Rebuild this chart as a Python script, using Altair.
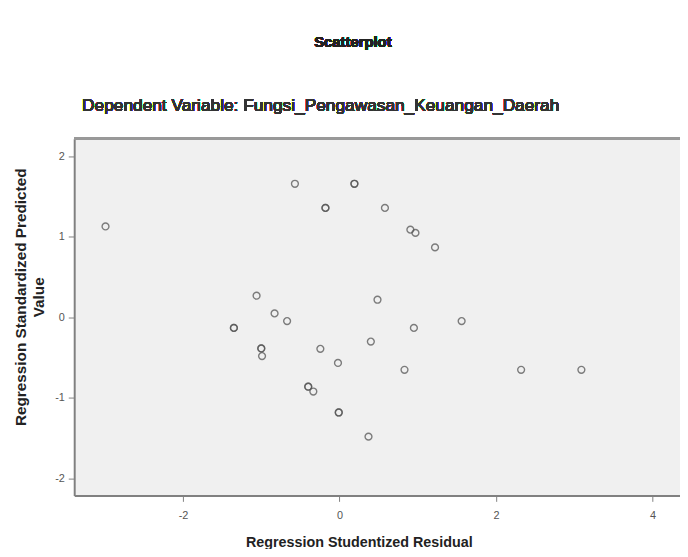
import altair as alt
import pandas as pd

# Regression Studentized Residual (x) and Regression Standardized Predicted Value (y)
resid = [-2.99, -0.57, 0.19, 0.19, -0.18, -0.18, 0.58, 0.905, 0.97, 1.22,
         -1.06, 0.485, -0.83, -0.67, -1.35, -1.35, 1.56, 0.95, -1.00, -1.00,
         -0.99, -0.245, 0.40, -0.02, 0.83, 2.32, 3.09, -0.40, -0.40, -0.335,
         -0.01, -0.01, 0.37]
pred = [1.13, 1.66, 1.66, 1.66, 1.36, 1.36, 1.36, 1.09, 1.05, 0.87,
        0.27, 0.22, 0.05, -0.045, -0.13, -0.13, -0.045, -0.13, -0.385, -0.385,
        -0.48, -0.39, -0.30, -0.565, -0.65, -0.65, -0.65, -0.86, -0.86, -0.92,
        -1.18, -1.18, -1.48]

x_ticks = [-2, 0, 2, 4]
y_ticks = [-2, -1, 0, 1, 2]

df = pd.DataFrame({"resid": resid, "pred": pred})

W, H = 613, 361
FONT = "Liberation Sans"
LABEL_EXPR = "datum.value < 0 ? '-' + abs(datum.value) : '' + datum.value"

points = alt.Chart(df).mark_point(
    shape="circle", filled=False, size=48, stroke="#555555",
    strokeWidth=1.4, opacity=0.75
).encode(
    x=alt.X("resid:Q",
            scale=alt.Scale(domain=[-3.39, 4.35], nice=False, zero=False),
            axis=alt.Axis(values=x_ticks, title="Regression Studentized Residual",
                          labelExpr=LABEL_EXPR,
                          grid=False, domainColor="#808080", domainWidth=2,
                          tickColor="#808080", tickSize=6, tickWidth=1,
                          labelFont=FONT, labelFontSize=11, labelColor="#555555",
                          labelPadding=8,
                          titleFont=FONT, titleFontSize=14.5, titleFontWeight="bold",
                          titleColor="#222222", titleX=288, titleY=52,
                          titleBaseline="alphabetic")),
    y=alt.Y("pred:Q",
            scale=alt.Scale(domain=[-2.21, 2.22], nice=False, zero=False),
            axis=alt.Axis(values=y_ticks,
                          title=["Regression Standardized Predicted", "Value"],
                          labelExpr=LABEL_EXPR,
                          grid=False, domainColor="#808080", domainWidth=2,
                          tickColor="#808080", tickSize=6, tickWidth=1,
                          labelFont=FONT, labelFontSize=11, labelColor="#555555",
                          labelPadding=4,
                          titleFont=FONT, titleFontSize=15.5, titleFontWeight="bold",
                          titleColor="#222222", titleLineHeight=18,
                          titleX=-46, titleY=160, titleBaseline="bottom",
                          titleAngle=270)),
)

top_border = alt.Chart(df).mark_rule(color="#999999", strokeWidth=2).encode(
    x=alt.value(0), x2=alt.value(W), y=alt.value(0)
)

main_title = alt.Chart(df).mark_text(
    text="Scatterplot", font=FONT, fontSize=15, fontWeight="bold",
    color="#222222", align="center", baseline="middle"
).encode(x=alt.value(282), y=alt.value(-98))

sub_title = alt.Chart(df).mark_text(
    text="Dependent Variable: Fungsi_Pengawasan_Keuangan_Daerah", font=FONT,
    fontSize=17.5, fontWeight="normal", color="#333333", align="left",
    baseline="middle"
).encode(x=alt.value(8), y=alt.value(-33))

chart = alt.layer(points, top_border, main_title, sub_title).properties(
    width=W, height=H,
    autosize=alt.AutoSizeParams(type="none"),
    padding={"left": 67, "top": 129, "right": 0, "bottom": 51},
).configure(background="white").configure_view(fill="#f0f0f0", stroke=None)

chart.save("out.html", embed_options={"renderer": "svg", "actions": False})
